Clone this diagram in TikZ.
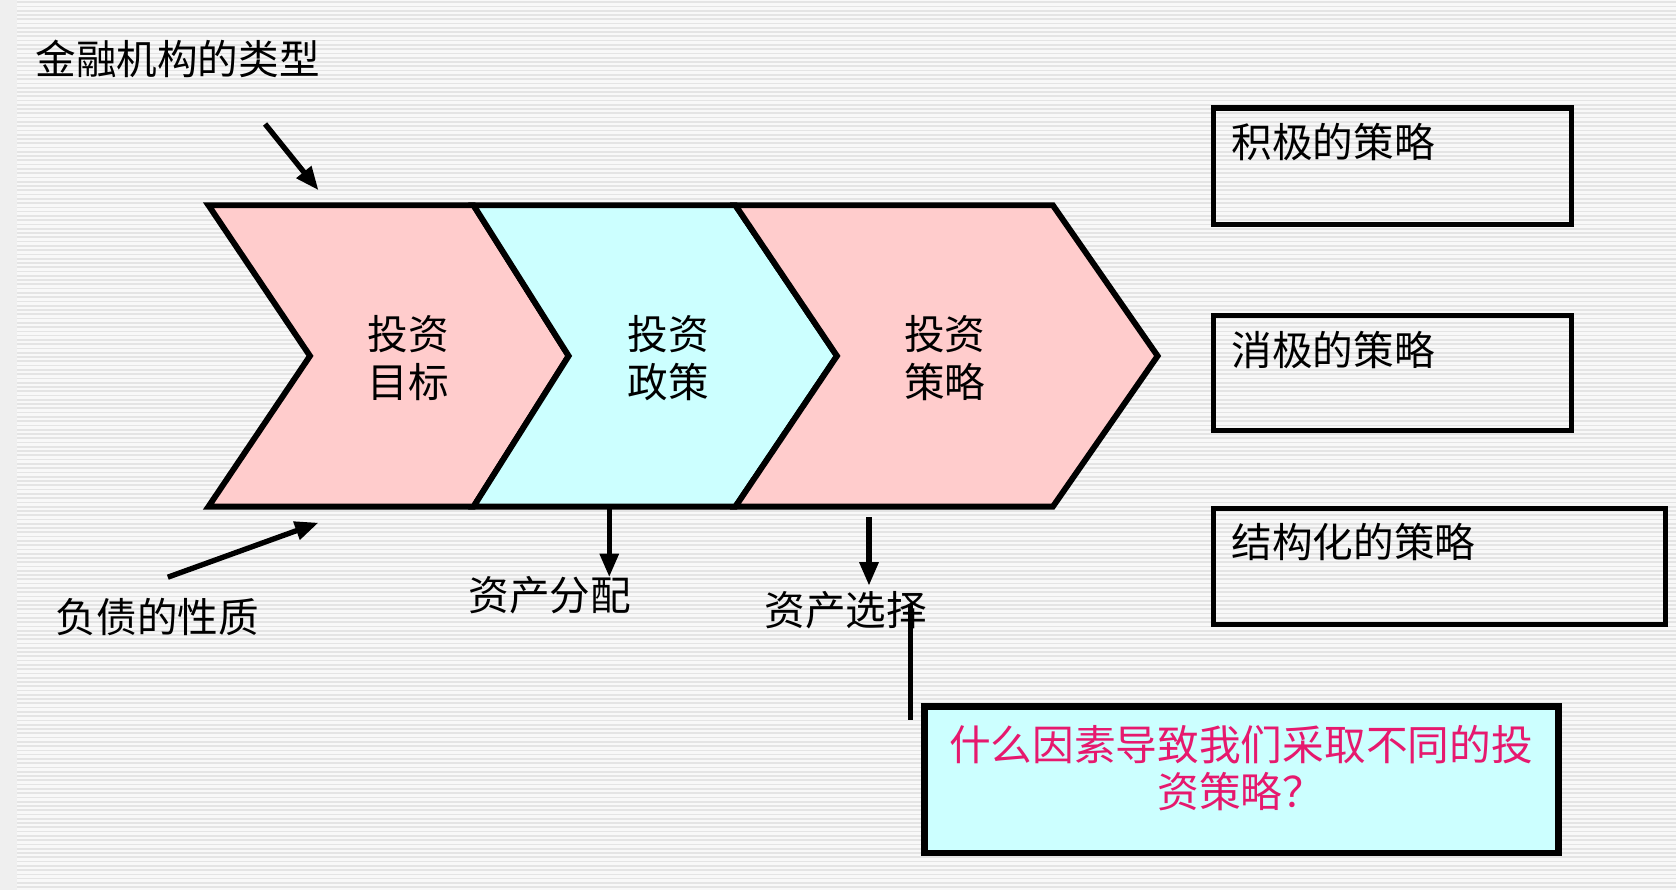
\documentclass[tikz,border=0pt]{standalone}
\usepackage{fontspec}
\newfontfamily\cjk{Noto Sans CJK SC}
\usetikzlibrary{arrows.meta}
\definecolor{pinkf}{HTML}{FFCCCC}
\definecolor{cyanf}{HTML}{CCFFFF}
\definecolor{mag}{HTML}{E6196E}
\definecolor{stripe}{HTML}{E4E4E4}
\definecolor{bgc}{HTML}{F8F8F8}
\definecolor{edgec}{HTML}{EFEFEF}
\begin{document}
\begin{tikzpicture}[x=1pt,y=-1pt,
  chev/.style={draw=black,line width=5.5pt,line join=miter},
  lab/.style={font=\cjk\fontsize{38}{45}\selectfont,inner sep=0pt},
  arr/.style={line width=5pt,-{Triangle[length=22pt,width=17pt]}},
  plain/.style={line width=5pt},
  sbox/.style={draw=black,line width=5pt}]
\useasboundingbox (0,0) rectangle (1568,833);
\fill[bgc] (0,0) rectangle (1568,833);
\foreach \i in {0,...,207} \draw[stripe,line width=1.6pt] (16,4*\i+2) -- (1568,4*\i+2);
\fill[edgec] (0,0) rectangle (16,833);
% chevrons
\filldraw[chev,fill=pinkf] (195,192) -- (443,192) -- (532,333) -- (443,474) -- (195,474) -- (290,333) -- cycle;
\filldraw[chev,fill=cyanf] (443,192) -- (688,192) -- (783,333) -- (688,474) -- (443,474) -- (532,333) -- cycle;
\filldraw[chev,fill=pinkf] (688,192) -- (985,192) -- (1083,333) -- (985,474) -- (688,474) -- (783,333) -- cycle;
\node[lab,align=center] (c1) at (382,335) {投资\\目标};
\node[lab,align=center] (c2) at (625,335) {投资\\政策};
\node[lab,align=center] (c3) at (884,335) {投资\\策略};
% top label and arrow
\node[lab,anchor=west] (t1) at (33,55) {金融机构的类型};
\coordinate (a1s) at (248,116);
\coordinate (a1e) at (298,178);
\draw[arr] (a1s) -- (a1e);
% liabilities
\node[lab,anchor=west] (t2) at (52,577) {负债的性质};
\coordinate (a2s) at (157,540);
\coordinate (a2e) at (298,489);
\draw[arr] (a2s) -- (a2e);
% asset allocation
\node[lab,anchor=west] (t3) at (438,557) {资产分配};
\coordinate (a3s) at (570,474);
\coordinate (a3e) at (570,540);
\draw[arr] (a3s) -- (a3e);
% asset selection
\node[lab,anchor=west] (t4) at (715,571) {资产选择};
\coordinate (a4s) at (813,484);
\coordinate (a4e) at (813,548);
\draw[arr] (a4s) -- (a4e);
% right boxes
\draw[sbox] (1135,101) rectangle (1470,210);
\node[lab,anchor=west] (r1) at (1152,133) {积极的策略};
\draw[sbox] (1135,295) rectangle (1470,403);
\node[lab,anchor=west] (r2) at (1152,327) {消极的策略};
\draw[sbox] (1135,476) rectangle (1558,584);
\node[lab,anchor=west] (r3) at (1152,507) {结构化的策略};
% question box
\filldraw[draw=black,fill=cyanf,line width=6pt] (865,661) rectangle (1458,798);
\node[lab,align=center,text=mag,font=\cjk\fontsize{39}{44}\selectfont] (q) at (1161,719) {什么因素导致我们采取不同的投\\资策略？};
\coordinate (ls) at (852,565);
\coordinate (le) at (852,674);
\draw[plain] (ls) -- (le);
\end{tikzpicture}
\end{document}
